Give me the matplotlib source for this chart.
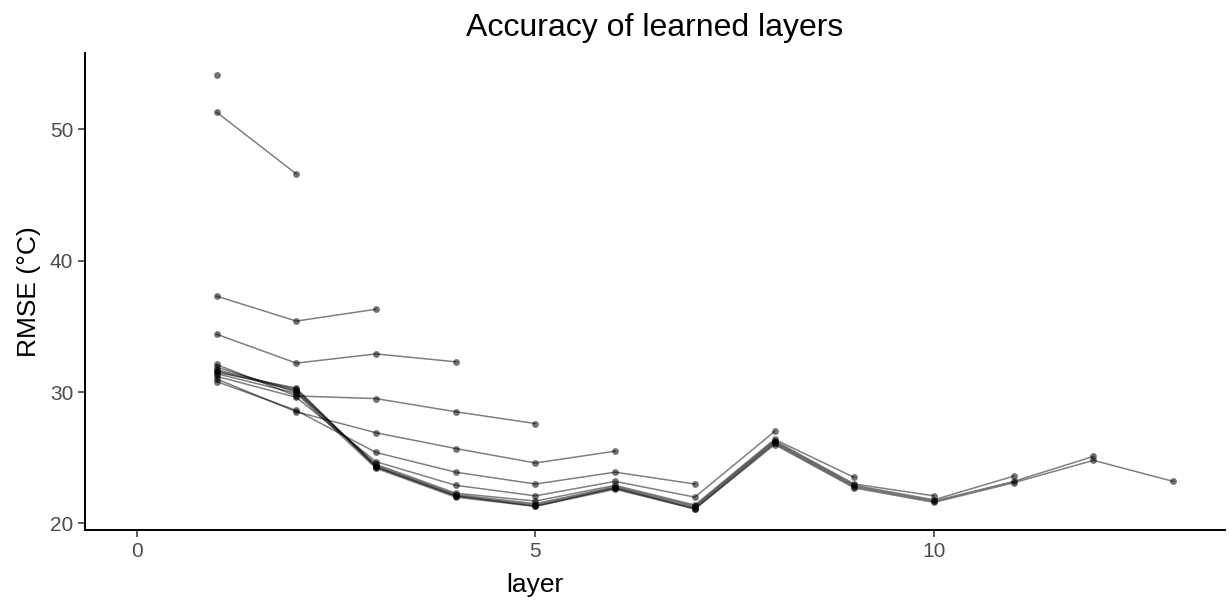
import matplotlib.pyplot as plt

plt.rcParams['font.family'] = ['Liberation Sans', 'DejaVu Sans']

# RMSE per layer, one list per model depth (1..13 layers)
rmse_1 = [54.1]
rmse_2 = [51.3, 46.6]
rmse_3 = [37.3, 35.4, 36.3]
rmse_4 = [34.4, 32.2, 32.9, 32.3]
rmse_5 = [32.1, 29.7, 29.5, 28.5, 27.6]
rmse_6 = [31.0, 28.5, 26.9, 25.7, 24.6, 25.5]
rmse_7 = [30.8, 28.6, 25.4, 23.9, 23.0, 23.9, 23.0]
rmse_8 = [31.2, 29.6, 24.7, 22.9, 22.1, 23.2, 22.0, 27.0]
rmse_9 = [31.9, 30.0, 24.5, 22.3, 21.7, 22.9, 21.4, 26.4, 23.5]
rmse_10 = [31.7, 30.2, 24.4, 22.2, 21.5, 22.8, 21.3, 26.3, 23.0, 22.1]
rmse_11 = [31.5, 30.3, 24.3, 22.1, 21.4, 22.7, 21.2, 26.2, 22.9, 21.8, 23.6]
rmse_12 = [31.6, 30.1, 24.3, 22.1, 21.3, 22.7, 21.1, 26.1, 22.8, 21.7, 23.2, 25.1]
rmse_13 = [31.4, 29.9, 24.2, 22.0, 21.3, 22.6, 21.1, 26.0, 22.7, 21.6, 23.1, 24.8, 23.2]

runs = [rmse_1, rmse_2, rmse_3, rmse_4, rmse_5, rmse_6, rmse_7,
        rmse_8, rmse_9, rmse_10, rmse_11, rmse_12, rmse_13]

fig = plt.figure(figsize=(12.29, 6.03), dpi=100)
ax = fig.add_axes([85 / 1229, 73 / 603, 1140 / 1229, 477 / 603])

for r in runs:
    layers = list(range(1, len(r) + 1))
    ax.plot(layers, r, color='black', alpha=0.5, lw=1.1, zorder=2)
    ax.scatter(layers, r, s=24, color='black', alpha=0.55, lw=0, zorder=3)

ax.set_xlim(-0.65, 13.65)
ax.set_ylim(19.5, 55.8)
ax.set_xticks([0, 5, 10])
ax.set_yticks([20, 30, 40, 50])

for side in ['top', 'right']:
    ax.spines[side].set_visible(False)
for side in ['left', 'bottom']:
    ax.spines[side].set_linewidth(1.4)
ax.tick_params(length=5, width=1.1, colors='#333333', labelcolor='#4d4d4d', labelsize=15)

ax.set_xlabel('layer', fontsize=19)
ax.xaxis.set_label_coords(0.395, -0.09)
ax.set_ylabel('RMSE (°C)', fontsize=19, labelpad=6)
ax.set_title('Accuracy of learned layers', fontsize=23, pad=12)

plt.savefig('out.png')
